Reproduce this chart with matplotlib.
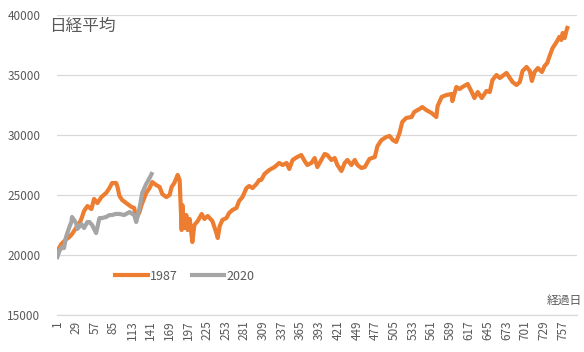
import matplotlib
matplotlib.use("Agg")
import matplotlib.pyplot as plt

plt.rcParams['font.family'] = ['Noto Sans CJK JP', 'DejaVu Sans']

# ---- data ----
days_1987 = [1, 7, 13, 19, 23, 29, 35, 38, 41, 46, 52, 56, 61, 67, 74, 79, 83, 89, 91, 94,
             98, 106, 112, 116, 119, 124, 127, 134, 139, 143, 149, 154, 158, 164, 169, 172, 176, 181, 184, 187,
             188, 191, 194, 196, 199, 203, 206, 211, 217, 221, 226, 233, 239, 241, 244, 248, 254, 258, 263, 269,
             273, 278, 284, 288, 293, 299, 303, 306, 311, 318, 326, 333, 338, 344, 348, 353, 360, 366, 371, 375,
             381, 386, 390, 396, 401, 405, 411, 416, 420, 426, 431, 435, 441, 446, 450, 456, 461, 468, 476, 480,
             486, 493, 498, 503, 508, 513, 517, 523, 531, 535, 543, 547, 553, 561, 568, 570, 576, 583, 591, 592,
             598, 603, 607, 615, 621, 625, 630, 636, 643, 648, 652, 658, 663, 667, 673, 678, 682, 688, 693, 697,
             703, 708, 711, 715, 720, 726, 730, 734, 737, 742, 748, 752, 755, 757, 760, 763, 764]
vals_1987 = [20330, 20920, 21250, 21500, 21750, 22250, 22750, 23170, 23670, 24080, 23830, 24670, 24330, 24830, 25170, 25580, 26000, 26000, 25670, 24920,
             24580, 24250, 24000, 23920, 23000, 23580, 24170, 25170, 25580, 26080, 25830, 25670, 25080, 24830, 25000, 25670, 26000, 26670, 26250, 22080,
             24170, 22250, 23330, 22080, 23000, 21080, 22500, 22830, 23420, 23000, 23250, 22830, 21830, 21420, 22420, 22920, 23080, 23500, 23750, 23920,
             24500, 24830, 25580, 25750, 25580, 25920, 26250, 26250, 26750, 27080, 27330, 27670, 27500, 27670, 27170, 27920, 28170, 28330, 27830, 27500,
             27670, 28080, 27330, 27920, 28420, 28330, 27920, 28080, 27500, 27000, 27670, 27920, 27500, 27920, 27500, 27250, 27330, 28000, 28170, 29080,
             29580, 29830, 29920, 29580, 29420, 30170, 31080, 31420, 31500, 31920, 32170, 32330, 32080, 31830, 31500, 32420, 33170, 33330, 33420, 32830,
             34000, 33830, 34000, 34250, 33580, 33080, 33580, 33080, 33670, 33580, 34580, 35000, 34750, 34920, 35170, 34750, 34420, 34170, 34420, 35330,
             35670, 35330, 34500, 35250, 35580, 35250, 35750, 36000, 36500, 37250, 37750, 38170, 37920, 38500, 38080, 38750, 38920]

days_2020 = [1, 4, 8, 11, 14, 19, 22, 23, 26, 29, 31, 37, 41, 46, 49, 53, 59, 64, 68, 74,
             79, 83, 88, 94, 101, 109, 116, 119, 124, 128, 134, 139, 142]
vals_2020 = [19830, 20330, 20670, 20580, 21500, 22330, 22750, 23170, 22920, 22670, 22170, 22580, 22250, 22750, 22750, 22500, 21830, 23080, 23080, 23170,
             23330, 23330, 23420, 23420, 23330, 23580, 23330, 22750, 23920, 25170, 25920, 26420, 26750]

series_labels = ["1987", "2020"]
x_ticks = list(range(1, 758, 28))
y_ticks = [15000, 20000, 25000, 30000, 35000, 40000]
title = "日経平均"
x_title = "経過日"

# ---- figure ----
fig = plt.figure(figsize=(5.84, 3.52), dpi=100)
ax = fig.add_axes([57/584, 37/352, 520/584, 300/352])

l1, = ax.plot(days_1987, vals_1987, color="#ED7D31", lw=3.0, solid_joinstyle="round", zorder=3)
l2, = ax.plot(days_2020, vals_2020, color="#A5A5A5", lw=3.0, solid_joinstyle="round", zorder=4)

ax.set_xlim(0.5, 778.5)
ax.set_ylim(15000, 40000)
ax.set_yticks(y_ticks)
ax.set_yticklabels([str(v) for v in y_ticks])
ax.set_xticks(x_ticks)
ax.set_xticklabels([str(v) for v in x_ticks], rotation=90)
ax.tick_params(axis="both", length=0, labelsize=8.5, labelcolor="#595959")
ax.tick_params(axis="y", pad=12)
ax.tick_params(axis="x", pad=4)
ax.grid(axis="y", color="#D9D9D9", lw=0.9)
ax.set_axisbelow(True)
for s in ["top", "right", "left"]:
    ax.spines[s].set_visible(False)
ax.spines["bottom"].set_color("#D9D9D9")
ax.spines["bottom"].set_linewidth(0.9)

leg = ax.legend([l1, l2], series_labels, loc="center", bbox_to_anchor=(0.246, 0.13),
                ncol=2, frameon=False, fontsize=9, handlelength=2.6, handletextpad=0.2,
                columnspacing=1.1, labelcolor="#595959")

fig.text(49/584, 1 - 26/352, title, fontsize=12, color="#595959", va="center", ha="left")
fig.text(582/584, 1 - 300/352, x_title, fontsize=8.5, color="#595959", va="center", ha="right")

fig.savefig("out.png", dpi=100)
